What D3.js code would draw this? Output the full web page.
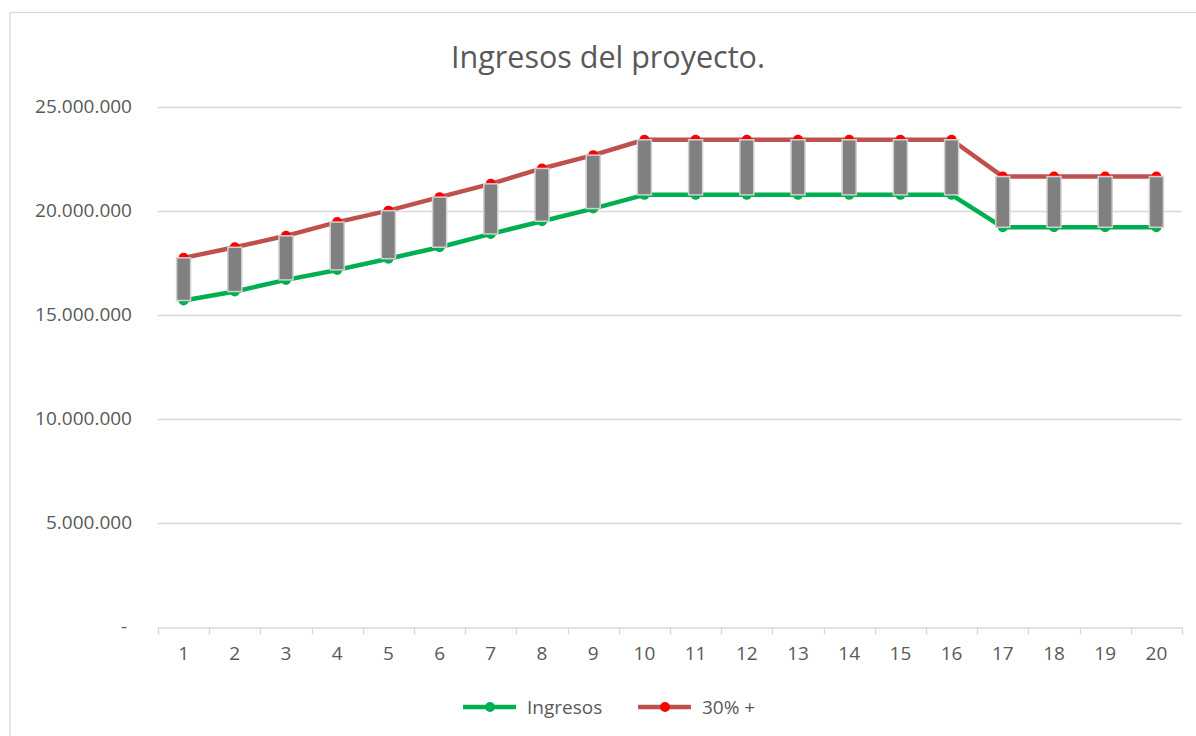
<!DOCTYPE html>
<html>
<head>
<meta charset="utf-8">
<script src="https://cdn.jsdelivr.net/npm/d3@7"></script>
<style>
  html, body { margin: 0; padding: 0; background: #fff; }
  svg { display: block; }
  text { font-family: "Open Sans", "DejaVu Sans", sans-serif; fill: #595959; }
</style>
</head>
<body>
<svg id="chart" width="1196" height="736"></svg>
<script>
const categories = ["1","2","3","4","5","6","7","8","9","10","11","12","13","14","15","16","17","18","19","20"];
const ingresos = [15680000, 16110000, 16670000, 17150000, 17690000, 18240000, 18880000, 19490000, 20100000, 20760000,
                  20760000, 20760000, 20760000, 20760000, 20760000, 20760000, 19200000, 19200000, 19200000, 19200000];
const mas30 = [17730000, 18240000, 18790000, 19450000, 20000000, 20650000, 21290000, 22030000, 22670000, 23410000,
               23410000, 23410000, 23410000, 23410000, 23410000, 23410000, 21640000, 21640000, 21640000, 21640000];
const yTicks = [0, 5000000, 10000000, 15000000, 20000000, 25000000];
const seriesNames = ["Ingresos", "30% +"];
const title = "Ingresos del proyecto.";

const svg = d3.select("#chart");
const green = "#00b050", greenMarker = "#00b050";
const red = "#c0504d", redMarker = "#ff0000";
const gridColor = "#d9d9d9";

// chart border
svg.append("rect").attr("x", 10).attr("y", 12.5).attr("width", 1200).attr("height", 740)
  .attr("fill", "#fff").attr("stroke", gridColor).attr("stroke-width", 1.3);

const x = d3.scaleBand().domain(categories).range([158, 1182]);
const y = d3.scaleLinear().domain([0, 25000000]).range([626.5, 106.7]);

const fmt = v => v === 0 ? "-" : d3.format(",")(v).replace(/,/g, ".");

// gridlines
svg.append("g").selectAll("line").data(yTicks.filter(d => d > 0)).join("line")
  .attr("x1", 158).attr("x2", 1182)
  .attr("y1", d => Math.round(y(d)) + 0.5).attr("y2", d => Math.round(y(d)) + 0.5)
  .attr("stroke", gridColor).attr("stroke-width", 1.3);

// y labels
svg.append("g").selectAll("text").data(yTicks).join("text")
  .attr("x", d => d === 0 ? 127 : 132).attr("y", d => y(d))
  .attr("dy", "0.35em").attr("text-anchor", "end")
  .style("font-size", "19px")
  .text(fmt);

// x axis
const xAxis = svg.append("g").attr("transform", `translate(0,${Math.round(y(0)) + 0.5})`)
  .call(d3.axisBottom(x).tickSize(0).tickPadding(19));
xAxis.select(".domain").attr("stroke", gridColor).attr("stroke-width", 1.3);
xAxis.selectAll("text").style("font-size", "19px").attr("fill", "#595959").attr("font-family", "Open Sans");
const bounds = categories.map(c => x(c)).concat([x.range()[1]]);
xAxis.selectAll(".bnd").data(bounds).join("line").attr("class", "bnd")
  .attr("x1", d => Math.round(d) + 0.5).attr("x2", d => Math.round(d) + 0.5)
  .attr("y1", 0).attr("y2", 7).attr("stroke", gridColor).attr("stroke-width", 1.3);

const cx = c => x(c) + x.bandwidth() / 2;

// lines
const line = d3.line().x((d, i) => cx(categories[i])).y(d => y(d));
svg.append("path").datum(ingresos).attr("d", line).attr("fill", "none")
  .attr("stroke", green).attr("stroke-width", 4.5).attr("stroke-linejoin", "round");
svg.append("path").datum(mas30).attr("d", line).attr("fill", "none")
  .attr("stroke", red).attr("stroke-width", 4.5).attr("stroke-linejoin", "round");

// markers
svg.append("g").selectAll("circle").data(ingresos).join("circle")
  .attr("cx", (d, i) => cx(categories[i])).attr("cy", d => y(d)).attr("r", 5).attr("fill", greenMarker);
svg.append("g").selectAll("circle").data(mas30).join("circle")
  .attr("cx", (d, i) => cx(categories[i])).attr("cy", d => y(d)).attr("r", 5).attr("fill", redMarker);

// up-down bars
const barW = 14;
svg.append("g").selectAll("rect").data(categories).join("rect")
  .attr("x", c => cx(c) - barW / 2)
  .attr("y", (c, i) => y(Math.max(ingresos[i], mas30[i])))
  .attr("width", barW)
  .attr("height", (c, i) => Math.abs(y(ingresos[i]) - y(mas30[i])))
  .attr("fill", "#808080").attr("stroke", "#d0d0d0").attr("stroke-width", 1.5);

// title
svg.append("text").attr("x", 608).attr("y", 68).attr("text-anchor", "middle")
  .style("font-size", "30.5px").text(title);

// legend
const legend = [
  { name: seriesNames[0], line: green, marker: greenMarker, x0: 463 },
  { name: seriesNames[1], line: red, marker: redMarker, x0: 638 }
];
const lg = svg.append("g").selectAll("g").data(legend).join("g")
  .attr("transform", d => `translate(${d.x0},707)`);
lg.append("line").attr("x1", 0).attr("x2", 53).attr("y1", 0).attr("y2", 0)
  .attr("stroke", d => d.line).attr("stroke-width", 4.5);
lg.append("circle").attr("cx", 27).attr("cy", 0).attr("r", 5).attr("fill", d => d.marker);
lg.append("text").attr("x", 64).attr("y", 0).attr("dy", "0.35em")
  .style("font-size", "19px").text(d => d.name);
</script>
</body>
</html>
